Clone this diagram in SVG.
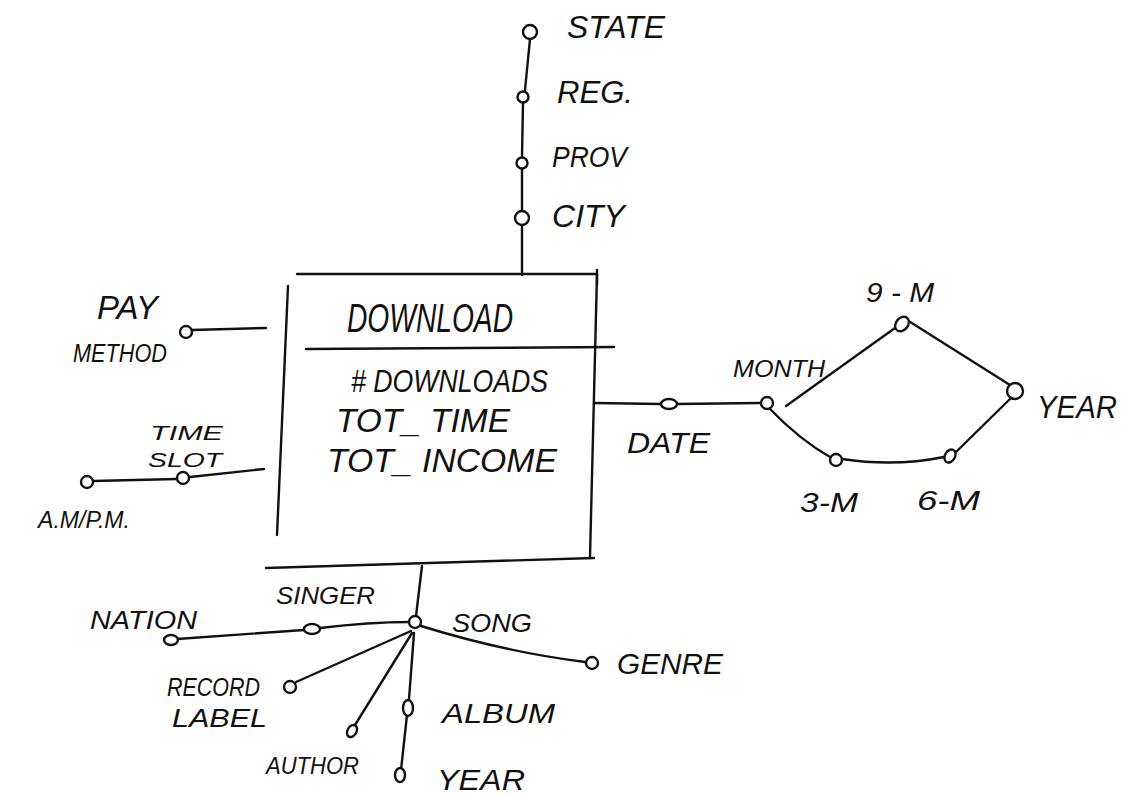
<svg xmlns="http://www.w3.org/2000/svg" width="1130" height="795" viewBox="0 0 1130 795">
<style>
.t{font-family:"Liberation Sans",Arial,sans-serif;font-style:italic;fill:#111;}
.l{stroke:#111;stroke-width:2.4;fill:none;stroke-linecap:round;stroke-linejoin:round;}
.c{stroke:#111;stroke-width:2.4;fill:#fff;}
</style>
<rect width="1130" height="795" fill="#fff"/>
<g id="connectors">
  <path class="l" d="M530 39 L525 90 M523 103 L522 157 M522 169 L522 211 M522 225 L522 275"/>
  <path class="l" d="M192 330 L266 328"/>
  <path class="l" d="M93 481 L177 479 M190 477 L264 469"/>
  <path class="l" d="M594 403 L661 404 M677 404 L760 403"/>
  <path class="l" d="M786 406 L895 328"/>
  <path class="l" d="M907 320 L1010 385"/>
  <path class="l" d="M770 409 Q800 440 830 457"/>
  <path class="l" d="M842 459 Q895 467 944 457"/>
  <path class="l" d="M956 452 L1010 399"/>
  <path class="l" d="M422 566 L416 616"/>
  <path class="l" d="M409 622 Q370 622 320 628 M304 630 L177 639"/>
  <path class="l" d="M421 626 Q505 652 585 662"/>
  <path class="l" d="M411 631 L296 682"/>
  <path class="l" d="M412 633 L355 725"/>
  <path class="l" d="M414 633 L409 699 M407 715 L401 770"/>
</g>
<g id="fact">
  <path class="l" d="M297 274 L597 274 M597 270 L597 284"/>
  <path class="l" d="M288 286 L277 535"/>
  <path class="l" d="M597 274 L590 557"/>
  <path class="l" d="M266 568 L594 558"/>
  <path class="l" d="M306 349 L614 347"/>
  <text class="t" x="347" y="332" font-size="40" textLength="166" lengthAdjust="spacingAndGlyphs">DOWNLOAD</text>
  <text class="t" x="351" y="392" font-size="32" textLength="197" lengthAdjust="spacingAndGlyphs"># DOWNLOADS</text>
  <text class="t" x="336" y="432" font-size="34" textLength="174" lengthAdjust="spacingAndGlyphs">TOT_ TIME</text>
  <text class="t" x="327" y="472" font-size="34" textLength="230" lengthAdjust="spacingAndGlyphs">TOT_ INCOME</text>
</g>
<g id="state"><circle class="c" cx="530" cy="32" r="7"/><text class="t" x="567" y="38" font-size="32" textLength="98" lengthAdjust="spacingAndGlyphs">STATE</text></g>
<g id="reg"><circle class="c" cx="523" cy="97" r="5.5"/><text class="t" x="557" y="103" font-size="32" textLength="76" lengthAdjust="spacingAndGlyphs">REG.</text></g>
<g id="prov"><circle class="c" cx="522" cy="163" r="5.5"/><text class="t" x="552" y="167" font-size="30" textLength="75" lengthAdjust="spacingAndGlyphs">PROV</text></g>
<g id="city"><circle class="c" cx="522" cy="218" r="7"/><text class="t" x="552" y="227" font-size="32" textLength="73" lengthAdjust="spacingAndGlyphs">CITY</text></g>
<g id="pay-method"><circle class="c" cx="186" cy="332" r="6"/><text class="t" x="97" y="319" font-size="34" textLength="61" lengthAdjust="spacingAndGlyphs">PAY</text><text class="t" x="73" y="362" font-size="26" textLength="94" lengthAdjust="spacingAndGlyphs">METHOD</text></g>
<g id="time-slot"><circle class="c" cx="183" cy="478" r="6"/><text class="t" x="150" y="440" font-size="21" textLength="73" lengthAdjust="spacingAndGlyphs">TIME</text><text class="t" x="148" y="467" font-size="21" textLength="74" lengthAdjust="spacingAndGlyphs">SLOT</text></g>
<g id="am-pm"><circle class="c" cx="87" cy="482" r="6"/><text class="t" x="38" y="528" font-size="24" textLength="92" lengthAdjust="spacingAndGlyphs">A.M/P.M.</text></g>
<g id="date"><ellipse class="c" cx="669" cy="404" rx="8" ry="5"/><text class="t" x="627" y="453" font-size="30" textLength="83" lengthAdjust="spacingAndGlyphs">DATE</text></g>
<g id="month"><circle class="c" cx="767" cy="403" r="6"/><text class="t" x="733" y="377" font-size="24" textLength="92" lengthAdjust="spacingAndGlyphs">MONTH</text></g>
<g id="m9"><ellipse class="c" cx="902" cy="324" rx="6" ry="8" transform="rotate(40 902 324)"/><text class="t" x="866" y="302" font-size="28" textLength="68" lengthAdjust="spacingAndGlyphs">9 - M</text></g>
<g id="year-date"><circle class="c" cx="1015" cy="391" r="8"/><text class="t" x="1037" y="418" font-size="32" textLength="80" lengthAdjust="spacingAndGlyphs">YEAR</text></g>
<g id="m3"><circle class="c" cx="836" cy="460" r="6"/><text class="t" x="800" y="512" font-size="28" textLength="58" lengthAdjust="spacingAndGlyphs">3-M</text></g>
<g id="m6"><ellipse class="c" cx="950" cy="456" rx="5" ry="7" transform="rotate(30 950 456)"/><text class="t" x="917" y="510" font-size="28" textLength="63" lengthAdjust="spacingAndGlyphs">6-M</text></g>
<g id="song"><circle class="c" cx="415" cy="622" r="6"/><text class="t" x="452" y="632" font-size="25" textLength="80" lengthAdjust="spacingAndGlyphs">SONG</text></g>
<g id="singer"><ellipse class="c" cx="312" cy="629" rx="8" ry="5"/><text class="t" x="276" y="604" font-size="24" textLength="99" lengthAdjust="spacingAndGlyphs">SINGER</text></g>
<g id="nation"><ellipse class="c" cx="171" cy="640" rx="7" ry="5"/><text class="t" x="90" y="629" font-size="25" textLength="107" lengthAdjust="spacingAndGlyphs">NATION</text></g>
<g id="genre"><circle class="c" cx="592" cy="663" r="6"/><text class="t" x="617" y="674" font-size="30" textLength="106" lengthAdjust="spacingAndGlyphs">GENRE</text></g>
<g id="record-label"><circle class="c" cx="290" cy="687" r="6"/><text class="t" x="167" y="696" font-size="25" textLength="93" lengthAdjust="spacingAndGlyphs">RECORD</text><text class="t" x="172" y="727" font-size="25" textLength="95" lengthAdjust="spacingAndGlyphs">LABEL</text></g>
<g id="author"><ellipse class="c" cx="352" cy="731" rx="4.5" ry="6.5" transform="rotate(30 352 731)"/><text class="t" x="266" y="774" font-size="24" textLength="93" lengthAdjust="spacingAndGlyphs">AUTHOR</text></g>
<g id="album"><ellipse class="c" cx="408" cy="708" rx="5" ry="8"/><text class="t" x="442" y="723" font-size="28" textLength="113" lengthAdjust="spacingAndGlyphs">ALBUM</text></g>
<g id="year-album"><ellipse class="c" cx="400" cy="775" rx="5" ry="7"/><text class="t" x="437" y="790" font-size="30" textLength="88" lengthAdjust="spacingAndGlyphs">YEAR</text></g>
</svg>
